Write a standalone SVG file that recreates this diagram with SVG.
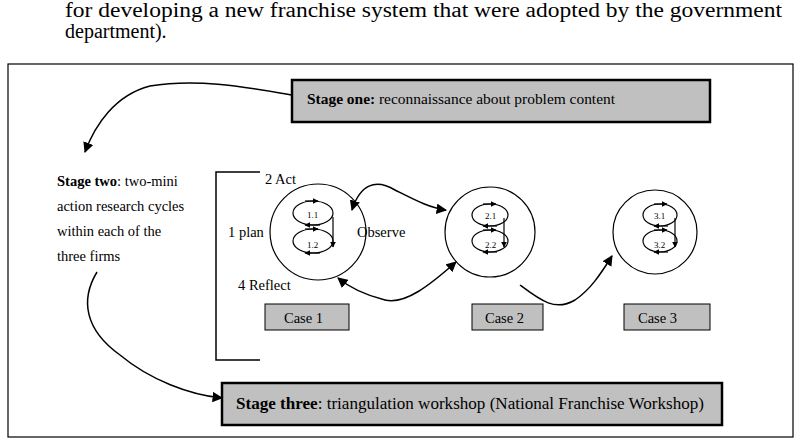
<svg xmlns="http://www.w3.org/2000/svg" width="803" height="445" viewBox="0 0 803 445">
<defs>
<marker id="ah" viewBox="0 0 10 10" refX="9" refY="5" markerWidth="7" markerHeight="7" orient="auto-start-reverse"><path d="M0,0 L10,5 L0,10 z" fill="#000"/></marker>
<marker id="sa" viewBox="0 0 10 10" refX="9" refY="5" markerWidth="5" markerHeight="5" orient="auto"><path d="M0,0 L10,5 L0,10 z" fill="#000"/></marker>
</defs>
<style>
text{font-family:"Liberation Serif","Times New Roman",serif;fill:#000}
.t{font-size:14.5px}
.b{font-weight:bold}
.box{fill:#c0c0c0;stroke:#000;stroke-width:2.5}
.cb{fill:#c0c0c0;stroke:#000;stroke-width:1}
.c{fill:none;stroke:#000;stroke-width:1.2}
.l{fill:none;stroke:#000;stroke-width:1.5}
.s{font-size:9px}
</style>
<rect width="803" height="445" fill="#fff"/>
<text x="65" y="17" font-family="Liberation Serif, serif" font-size="20" textLength="717" lengthAdjust="spacingAndGlyphs">for developing a new franchise system that were adopted by the government</text>
<text x="65" y="38" font-family="Liberation Serif, serif" font-size="20">department).</text>
<rect x="8" y="64" width="785" height="373" fill="none" stroke="#000" stroke-width="1.2"/>
<g id="stage1"><rect class="box" x="292" y="80" width="418" height="42"/><text x="307" y="104" font-family="Liberation Serif, serif" font-size="14" textLength="308" lengthAdjust="spacingAndGlyphs"><tspan class="b">Stage one:</tspan> reconnaissance about problem content</text></g>
<g id="stage2"><text class="t" x="57" y="186"><tspan class="b">Stage two</tspan>: two-mini</text><text class="t" x="57" y="211">action research cycles</text><text class="t" x="57" y="236">within each of the</text><text class="t" x="57" y="261">three firms</text></g>
<g id="stage3"><rect class="box" x="222" y="383" width="500" height="42"/><text x="236" y="409" font-family="Liberation Serif, serif" font-size="16" textLength="468" lengthAdjust="spacingAndGlyphs"><tspan class="b">Stage three</tspan>: triangulation workshop (National Franchise Workshop)</text></g>
<g id="bracket"><path class="l" d="M260,172 H216 V360 H260"/></g>
<g id="labels"><text class="t" x="265" y="184">2  Act</text><text class="t" x="228" y="237">1  plan</text><text class="t" x="357" y="237">Observe</text><text class="t" x="238" y="290">4 Reflect</text></g>
<g id="case1"><circle class="c" cx="318" cy="232" r="48"/><ellipse class="c" cx="313" cy="213" rx="20" ry="12"/><ellipse class="c" cx="313" cy="241" rx="20" ry="12"/><path class="c" d="M333,217 V247" marker-end="url(#sa)"/><path class="c" d="M305,201 H318" marker-end="url(#sa)"/><path class="c" d="M305,229 H318" marker-end="url(#sa)"/><path class="c" d="M320,225 H305" marker-end="url(#sa)"/><path class="c" d="M320,253 H305" marker-end="url(#sa)"/><text class="s" x="307" y="218" fill="#8a5a00">1.1</text><text class="s" x="307" y="248">1.2</text><rect class="cb" x="265" y="304" width="84" height="26"/><text class="t" x="284" y="323">Case 1</text></g>
<g id="case2"><circle class="c" cx="490" cy="232" r="45"/><ellipse class="c" cx="490" cy="215" rx="18" ry="11"/><ellipse class="c" cx="490" cy="241" rx="18" ry="11"/><path class="c" d="M504,218 V247" marker-end="url(#sa)"/><path class="c" d="M483,204 H496" marker-end="url(#sa)"/><path class="c" d="M483,230 H496" marker-end="url(#sa)"/><path class="c" d="M497,226 H483" marker-end="url(#sa)"/><path class="c" d="M497,252 H483" marker-end="url(#sa)"/><text class="s" x="485" y="219">2.1</text><text class="s" x="485" y="248">2.2</text><rect class="cb" x="472" y="304" width="71" height="26"/><text class="t" x="485" y="323">Case 2</text></g>
<g id="case3"><circle class="c" cx="655" cy="232" r="42"/><ellipse class="c" cx="660" cy="215" rx="17" ry="11"/><ellipse class="c" cx="660" cy="241" rx="17" ry="11"/><path class="c" d="M675,218 V247" marker-end="url(#sa)"/><path class="c" d="M654,204 H667" marker-end="url(#sa)"/><path class="c" d="M654,230 H667" marker-end="url(#sa)"/><path class="c" d="M668,226 H654" marker-end="url(#sa)"/><path class="c" d="M668,252 H654" marker-end="url(#sa)"/><text class="s" x="654" y="219">3.1</text><text class="s" x="654" y="248">3.2</text><rect class="cb" x="624" y="304" width="86" height="26"/><text class="t" x="638" y="323">Case 3</text></g>
<g id="connectors">
<path class="l" d="M292,95 C250,88 200,78 150,86 C115,95 95,125 85,152" marker-end="url(#ah)"/>
<path class="l" d="M97,272 C80,300 85,330 120,355 C150,380 190,395 222,398" marker-end="url(#ah)"/>
<path class="l" d="M352,210 C360,185 375,178 395,190 C415,200 430,208 446,210" marker-start="url(#ah)" marker-end="url(#ah)"/>
<path class="l" d="M456,262 C430,285 405,305 385,300 C365,295 350,288 338,278" marker-start="url(#ah)" marker-end="url(#ah)"/>
<path class="l" d="M520,285 C540,300 555,312 575,300 C590,290 600,275 612,256" marker-end="url(#ah)"/>
</g>
</svg>
